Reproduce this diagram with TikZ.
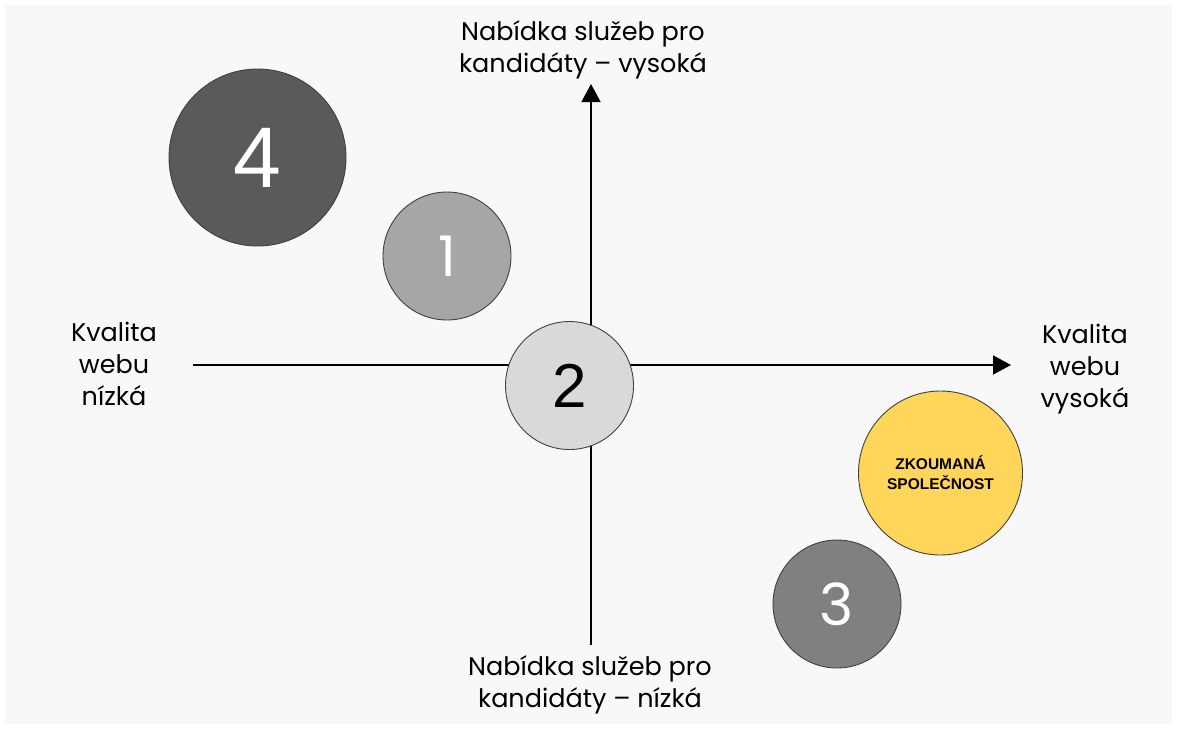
\documentclass[tikz,border=0pt]{standalone}
\usepackage{fontspec}
\setmainfont{Poppins}
\newfontfamily\arialfont{Liberation Sans}
\usetikzlibrary{arrows.meta, positioning}

\definecolor{bgray}{HTML}{F8F8F8}
\definecolor{cfour}{HTML}{5A5A5A}
\definecolor{cone}{HTML}{A6A6A6}
\definecolor{ctwo}{HTML}{D9D9D9}
\definecolor{cthree}{HTML}{808080}
\definecolor{cyellow}{HTML}{FFD65A}

\tikzset{
  axislabel/.style={align=center, font=\fontsize{25.5}{32}\selectfont, text=black},
  bubble/.style={circle, draw=black!75, line width=0.9pt, inner sep=0pt},
  axisline/.style={line width=1.6pt, -{Triangle[width=19pt,length=18pt]}}
}

\begin{document}
\begin{tikzpicture}[x=1pt, y=-1pt]
  \useasboundingbox (0,0) rectangle (1177,729);
  \fill[bgray] (5,5) rectangle (1172,724);

%axes
  \coordinate (Xl) at (193,365);
  \coordinate (Xr) at (1011,365);
  \coordinate (Yb) at (591,645);
  \coordinate (Yt) at (591,84);
  \draw[axisline] (Xl) -- (Xr);
  \draw[axisline] (Yb) -- (Yt);

%labels
  \node[axislabel] (top) at (583,50) {Nabídka služeb pro\\kandidáty – vysoká};
  \node[axislabel] (bottom) at (590,685) {Nabídka služeb pro\\kandidáty – nízká};
  \node[axislabel] (left) at (114,364) {Kvalita\\webu\\nízká};
  \node[axislabel] (right) at (1085,369) {Kvalita\\webu\\vysoká};

%bubbles
  \node[bubble, fill=cfour, minimum size=177pt, text=white,
        font=\arialfont\fontsize{86}{86}\selectfont] (B4) at (257.5,157.5) {4};
  \node[bubble, fill=cone, minimum size=128pt, text=white,
        font=\fontsize{56}{56}\selectfont] (B1) at (447,256) {1};
  \node[bubble, fill=ctwo, minimum size=128pt, text=black,
        font=\arialfont\fontsize{62}{62}\selectfont] (B2) at (569.5,385.5) {2};
  \node[bubble, fill=cthree, minimum size=128pt, text=white,
        font=\fontsize{58}{58}\selectfont] (B3) at (837,604) {3};
  \node[bubble, fill=cyellow, minimum size=164pt, align=center, text=black,
        font=\arialfont\bfseries\fontsize{15.5}{20}\selectfont] (B0) at (940.5,473) {ZKOUMANÁ\\SPOLEČNOST};
\end{tikzpicture}
\end{document}
